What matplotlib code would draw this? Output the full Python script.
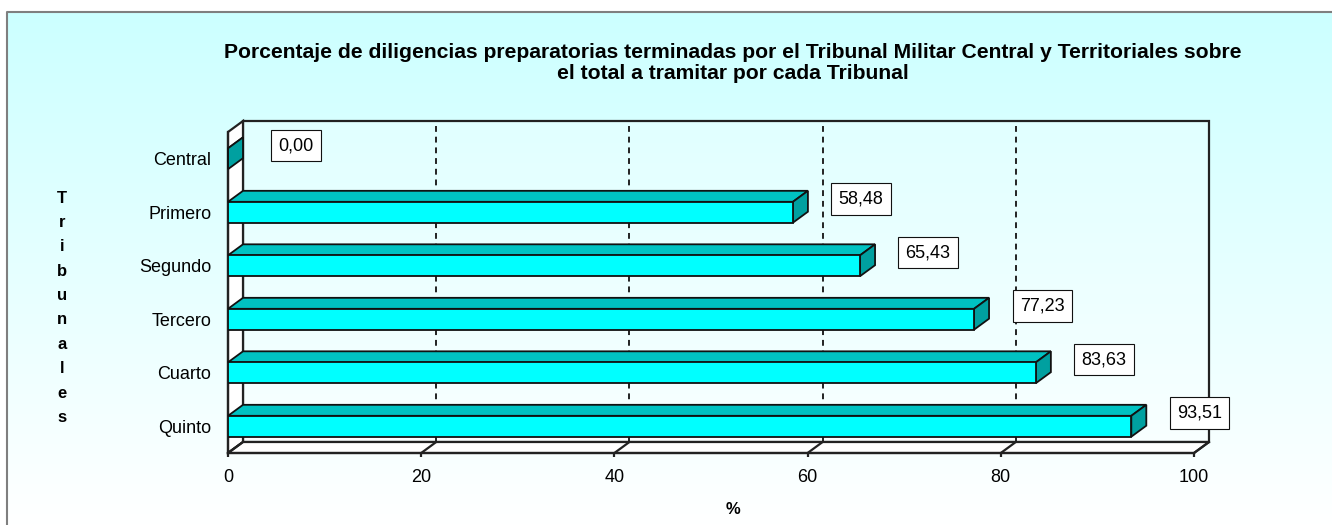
import numpy as np
import matplotlib
matplotlib.use("Agg")
import matplotlib.pyplot as plt
from matplotlib.patches import Polygon
from matplotlib.lines import Line2D

plt.rcParams['font.family'] = ['Liberation Sans', 'DejaVu Sans']

# Data
tribunales = ["Central", "Primero", "Segundo", "Tercero", "Cuarto", "Quinto"]
porcentajes = [0.00, 58.48, 65.43, 77.23, 83.63, 93.51]
x_ticks = [0, 20, 40, 60, 80, 100]
titulo = ["Porcentaje de diligencias preparatorias terminadas por el Tribunal Militar Central y Territoriales sobre",
          "el total a tramitar por cada Tribunal"]

W, H = 1332, 525
fig = plt.figure(figsize=(W / 100, H / 100), dpi=100)

# Background: gradient panel with a grey frame
bg = fig.add_axes([0, 0, 1, 1], zorder=0)
bg.set_xlim(0, W)
bg.set_ylim(H, 0)
bg.axis("off")
grad = np.linspace(0, 1, 256)[:, None]
c_top = np.array([204, 255, 255]) / 255
c_bot = np.array([255, 255, 255]) / 255
img = c_top[None, None, :] * (1 - grad[..., None]) + c_bot[None, None, :] * grad[..., None]
bg.imshow(img, extent=(7, W, H, 12), aspect="auto", zorder=0)
bg.plot([7, 7, W], [H, 12, 12], color="#7f7f7f", lw=1.5, zorder=1)

# Front plane of the 3D box
ax = fig.add_axes([228 / W, (H - 453) / H, 966 / W, 321 / H], zorder=2)
ax.patch.set_visible(False)
ax.set_xlim(0, 100)
ax.set_ylim(len(tribunales) - 0.5, -0.5)

# depth of the 3D effect in data units
DX = 15 / 9.66
DY = 11 / (321 / len(tribunales))
y0, y1 = len(tribunales) - 0.5, -0.5   # bottom / top of front plane
lw = 1.6

# back wall
ax.add_patch(Polygon([(DX, y0 - DY), (100 + DX, y0 - DY), (100 + DX, y1 - DY), (DX, y1 - DY)],
                     closed=True, facecolor=(1, 1, 1, 0.25), edgecolor="#222222", lw=lw,
                     clip_on=False, zorder=1))
# left wall
ax.add_patch(Polygon([(0, y0), (DX, y0 - DY), (DX, y1 - DY), (0, y1)],
                     closed=True, facecolor="white", edgecolor="#222222", lw=lw,
                     clip_on=False, zorder=2))
# floor
ax.add_patch(Polygon([(0, y0), (100, y0), (100 + DX, y0 - DY), (DX, y0 - DY)],
                     closed=True, facecolor="white", edgecolor="#222222", lw=lw,
                     clip_on=False, zorder=2))

# gridlines: dashed on back wall, solid on floor
for t in x_ticks[1:-1]:
    ax.add_line(Line2D([t + DX, t + DX], [y0 - DY, y1 - DY], color="#222222", lw=1.4,
                       ls=(0, (3, 2.5)), clip_on=False, zorder=1.5))
for t in x_ticks:
    ax.add_line(Line2D([t, t + DX], [y0, y0 - DY], color="#222222", lw=lw,
                       clip_on=False, zorder=3))

# 3D bars
bh = 0.39
front_c, top_c, side_c = "#00FFFF", "#00C2C2", "#00A0A0"
for i, v in enumerate(porcentajes):
    top = i - bh / 2
    bot = i + bh / 2
    ax.add_patch(Polygon([(0, top), (v, top), (v + DX, top - DY), (DX, top - DY)],
                         closed=True, facecolor=top_c, edgecolor="#111111", lw=1.3,
                         clip_on=False, zorder=4))
    ax.add_patch(Polygon([(v, top), (v, bot), (v + DX, bot - DY), (v + DX, top - DY)],
                         closed=True, facecolor=side_c, edgecolor="#111111", lw=1.3,
                         clip_on=False, zorder=4))
    ax.barh(i, v, height=bh, color=front_c, edgecolor="#111111", lw=1.3, zorder=4)
    ax.annotate(f"{v:.2f}".replace(".", ","), xy=(v + DX, i - DY - 0.04),
                xytext=(53 * 0.72, 0), textcoords="offset points", ha="center", va="center",
                fontsize=13,
                bbox=dict(boxstyle="square,pad=0.4", fc="white", ec="#111111", lw=0.8),
                zorder=5, annotation_clip=False)

# axes styling
for s in ["top", "right"]:
    ax.spines[s].set_visible(False)
for s in ["left", "bottom"]:
    ax.spines[s].set_linewidth(lw)
    ax.spines[s].set_color("#222222")
    ax.spines[s].set_zorder(3)
ax.set_xticks(x_ticks)
ax.set_xticklabels([str(t) for t in x_ticks])
ax.set_yticks(range(len(tribunales)))
ax.set_yticklabels(tribunales)
ax.tick_params(axis="x", direction="out", length=3, width=1.6, pad=8.5, labelsize=13, color="#222222")
ax.tick_params(axis="y", length=0, pad=12, labelsize=13)

# titles
fig.text(733 / W, 1 - 58 / H, titulo[0], ha="center", va="baseline", fontsize=15.2,
         fontweight="bold")
fig.text(733 / W, 1 - 79 / H, titulo[1], ha="center", va="baseline", fontsize=15.2,
         fontweight="bold")
fig.text(733 / W, 1 - 510 / H, "%", ha="center", va="center", fontsize=12, fontweight="bold")
for k, ch in enumerate("Tribunales"):
    fig.text(62 / W, 1 - (198 + k * 24.4) / H, ch, ha="center", va="center",
             fontsize=12, fontweight="bold")

fig.savefig("out.png", dpi=100)
